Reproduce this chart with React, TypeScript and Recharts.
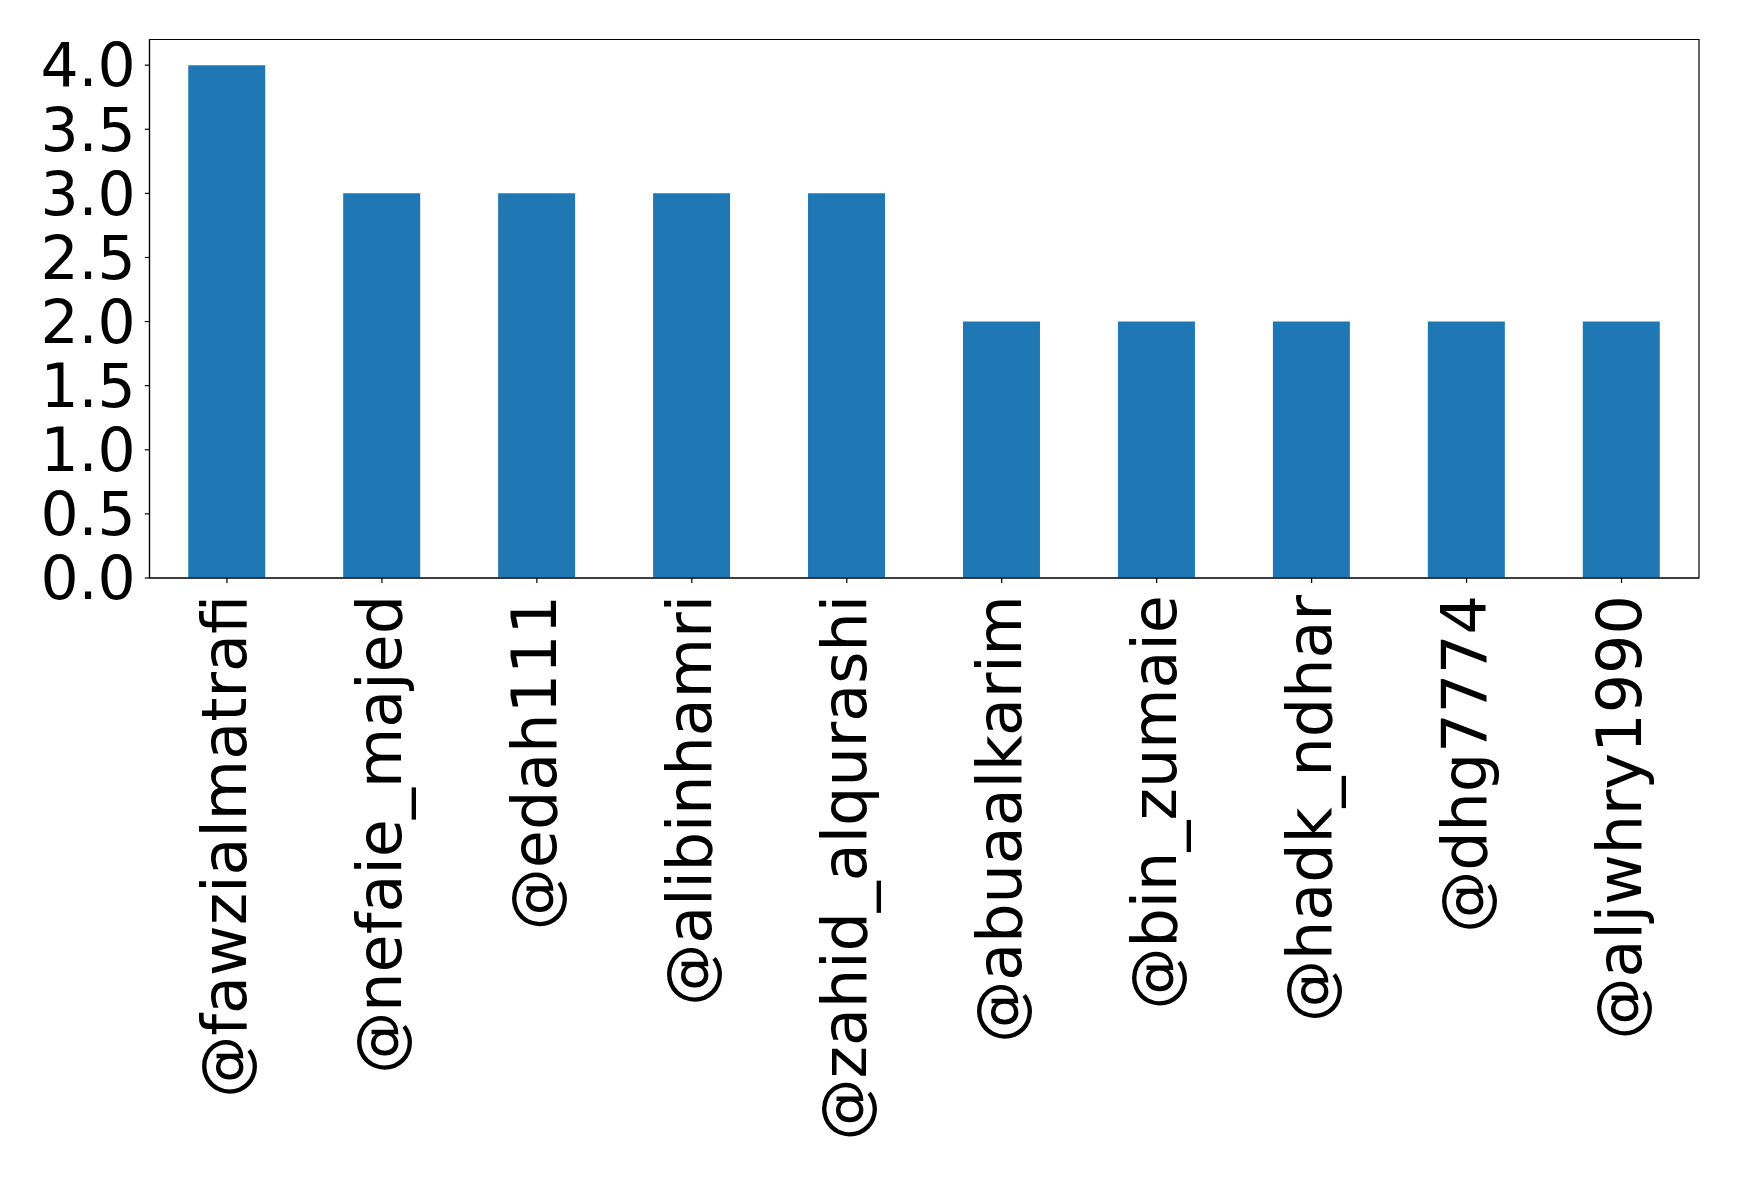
import { BarChart, Bar, XAxis, YAxis, ReferenceArea } from "recharts";

const users = [
  "@fawzialmatrafi",
  "@nefaie_majed",
  "@edah111",
  "@alibinhamri",
  "@zahid_alqurashi",
  "@abuaalkarim",
  "@bin_zumaie",
  "@hadk_ndhar",
  "@dhg7774",
  "@aljwhry1990",
];
const counts = [4, 3, 3, 3, 3, 2, 2, 2, 2, 2];
const yTicks = [0, 0.5, 1, 1.5, 2, 2.5, 3, 3.5, 4];

const data = users.map((name, i) => ({ name, count: counts[i] }));

const FONT = "DejaVu Sans";
const FS = 62;
const Y_MAX = 4.2;

function UserTick({ x, y, payload }: any) {
  // vertical label, reading bottom-to-top, ending just below the tick
  const ax = x + 19.5;
  const ay = y + 12;
  return (
    <text
      x={ax}
      y={ay}
      transform={`rotate(-90, ${ax}, ${ay})`}
      textAnchor="end"
      fontFamily={FONT}
      fontSize={FS}
      fill="#000"
    >
      {payload.value}
    </text>
  );
}

export default function App() {
  return (
    <div style={{ position: "absolute", left: 0, top: 0, background: "#fff" }}>
      <BarChart
        width={1739}
        height={1177}
        data={data}
        margin={{ top: 39.5, right: 40, bottom: 0, left: 0.5 }}
        barCategoryGap="25%"
      >
        <XAxis
          dataKey="name"
          height={599}
          interval={0}
          tickSize={5}
          tickMargin={0}
          tick={<UserTick />}
          axisLine={{ stroke: "#000", strokeWidth: 1.2 }}
          tickLine={{ stroke: "#000", strokeWidth: 1.2 }}
        />
        <YAxis
          width={149}
          domain={[0, Y_MAX]}
          ticks={yTicks}
          interval={0}
          tickFormatter={(v: number) => v.toFixed(1)}
          tickSize={4.7}
          tickMargin={9}
          tick={{ fill: "#000", fontSize: 60, fontFamily: FONT }}
          axisLine={{ stroke: "#000", strokeWidth: 1.2 }}
          tickLine={{ stroke: "#000", strokeWidth: 1.2 }}
        />
        <Bar dataKey="count" fill="#1f77b4" isAnimationActive={false} />
        {/* frame around the plot area */}
        <ReferenceArea
          y1={0}
          y2={Y_MAX}
          fill="none"
          fillOpacity={0}
          stroke="#000"
          strokeWidth={1.2}
        />
      </BarChart>
    </div>
  );
}
